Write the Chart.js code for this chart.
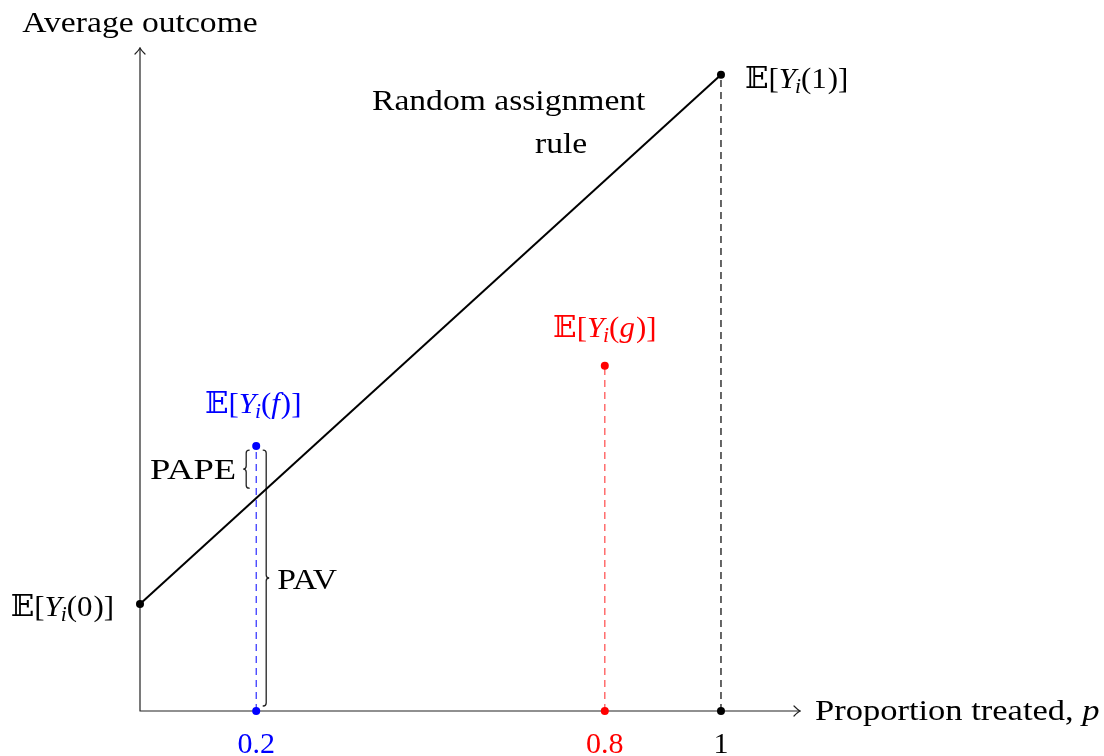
<!DOCTYPE html>
<html><head><meta charset="utf-8">
<script src="https://cdn.jsdelivr.net/npm/chart.js@4"></script>
<style>html,body{margin:0;padding:0;background:#fff}#wrap{width:1104px;height:756px;position:relative}</style>
</head><body><div id="wrap"><canvas id="c" width="1104" height="756"></canvas></div>
<script>
// ---- data ----
const ruleP = [0, 1];              // proportion treated at the two ends of the rule
const ruleY = [0.184, 1.095];      // E[Y_i(0)], E[Y_i(1)]
const policyP = [0.2, 0.8];        // f, g
const policyY = [0.456, 0.594];    // E[Y_i(f)], E[Y_i(g)]
const tickValues = [0.2, 0.8, 1];
const tickLabels = ['0.2', '0.8', '1'];
const axisMax = { x: 1.136, y: 1.141 };

const BLUE = '#0000ff', RED = '#ff0000', BLACK = '#000000';
const S = 30;
const FN = (s) => `${s}px "Liberation Serif", "DejaVu Serif", "DejaVu Sans", serif`;
const FI = (s) => `italic ${s}px "Liberation Serif", "DejaVu Serif", serif`;

function ruleAt(p) { return ruleY[0] + (ruleY[1] - ruleY[0]) * (p - ruleP[0]) / (ruleP[1] - ruleP[0]); }

function setF(ctx, p) { ctx.font = p.s === 'i' ? FI(S) : p.s === 'sub' ? FI(Math.round(S * 0.7)) : FN(S); }
function drawRich(ctx, parts, x, y, align, color, k) {
  k = k || 1;
  let w = 0;
  for (const p of parts) { setF(ctx, p); w += ctx.measureText(p.t).width + (p.k || 0); }
  w *= k;
  let cx = align === 'center' ? x - w / 2 : align === 'right' ? x - w : x;
  ctx.save();
  ctx.translate(cx, y); ctx.scale(k, 1);
  ctx.fillStyle = color; ctx.textAlign = 'left'; ctx.textBaseline = 'alphabetic';
  let px = 0;
  for (const p of parts) {
    setF(ctx, p);
    ctx.fillText(p.t, px, p.s === 'sub' ? 5 : 0);
    px += ctx.measureText(p.t).width + (p.k || 0);
  }
  ctx.restore();
}
function txt(ctx, s, x, y, align, color, k) { drawRich(ctx, [{ t: s, s: 'n' }], x, y, align, color, k); }
function EY(arg) {
  return [{ t: '𝔼[', s: 'n' }, { t: 'Y', s: 'i', k: -1 }, { t: 'i', s: 'sub' }, { t: '(', s: 'n' },
    { t: arg, s: /[0-9]/.test(arg) ? 'n' : 'i', k: 1 }, { t: ')]', s: 'n' }];
}
function brace(ctx, x, y1, y2, d, a) {
  const h = a / 2, m = (y1 + y2) / 2;
  ctx.beginPath();
  ctx.moveTo(x, y1);
  ctx.quadraticCurveTo(x + d * h, y1, x + d * h, y1 + h);
  ctx.lineTo(x + d * h, m - h);
  ctx.quadraticCurveTo(x + d * h, m, x + d * a, m);
  ctx.quadraticCurveTo(x + d * h, m, x + d * h, m + h);
  ctx.lineTo(x + d * h, y2 - h);
  ctx.quadraticCurveTo(x + d * h, y2, x, y2);
  ctx.stroke();
}

const TK = 1.12;
const axesPlugin = {
  id: 'axesAndText',
  beforeDatasetsDraw(chart) {
    const ctx = chart.ctx, xs = chart.scales.x, ys = chart.scales.y;
    const x0 = xs.getPixelForValue(0), y0 = ys.getPixelForValue(0);
    const xr = xs.getPixelForValue(axisMax.x), yt = ys.getPixelForValue(axisMax.y);
    ctx.save();
    ctx.strokeStyle = '#222'; ctx.lineWidth = 1.2; ctx.lineCap = 'round';
    ctx.beginPath(); ctx.moveTo(x0, y0); ctx.lineTo(xr, y0); ctx.moveTo(x0, y0); ctx.lineTo(x0, yt); ctx.stroke();
    ctx.beginPath();
    ctx.moveTo(xr - 6, y0 - 5); ctx.quadraticCurveTo(xr - 2, y0 - 1, xr, y0); ctx.quadraticCurveTo(xr - 2, y0 + 1, xr - 6, y0 + 5);
    ctx.moveTo(x0 - 5, yt + 6); ctx.quadraticCurveTo(x0 - 1, yt + 2, x0, yt); ctx.quadraticCurveTo(x0 + 1, yt + 2, x0 + 5, yt + 6);
    ctx.stroke();
    const bx = xs.getPixelForValue(policyP[0]);
    const yf = ys.getPixelForValue(policyY[0]);
    const yr = ys.getPixelForValue(ruleAt(policyP[0]));
    ctx.strokeStyle = '#222'; ctx.lineWidth = 1.3;
    brace(ctx, bx - 7, yf + 4, yr - 10, -1, 6);
    brace(ctx, bx + 7, yf + 4, y0 - 5, 1, 6);
    ctx.restore();
  },
  afterDraw(chart) {
    const ctx = chart.ctx, xs = chart.scales.x, ys = chart.scales.y;
    const x0 = xs.getPixelForValue(0), y0 = ys.getPixelForValue(0);
    const xr = xs.getPixelForValue(axisMax.x), yt = ys.getPixelForValue(axisMax.y);
    txt(ctx, 'Average outcome', x0, yt - 16, 'center', BLACK, TK);
    drawRich(ctx, [{ t: 'Proportion treated, ', s: 'n' }, { t: 'p', s: 'i' }], xr + 15, y0 + 9, 'left', BLACK, 1.15);
    const tickCols = [BLUE, RED, BLACK];
    tickValues.forEach((v, i) => txt(ctx, tickLabels[i], xs.getPixelForValue(v), y0 + 42, 'center', tickCols[i], 1.0));
    drawRich(ctx, EY('1'), xs.getPixelForValue(ruleP[1]) + 24, ys.getPixelForValue(ruleY[1]) + 13, 'left', BLACK, 1.03);
    drawRich(ctx, EY('0'), xs.getPixelForValue(ruleP[0]) - 26, ys.getPixelForValue(ruleY[0]) + 12, 'right', BLACK, 1.03);
    drawRich(ctx, EY('f'), xs.getPixelForValue(policyP[0]) - 3, ys.getPixelForValue(policyY[0]) - 33, 'center', BLUE, 1.03);
    drawRich(ctx, EY('g'), xs.getPixelForValue(policyP[1]), ys.getPixelForValue(policyY[1]) - 29, 'center', RED, 1.03);
    txt(ctx, 'Random assignment', 372, 110, 'left', BLACK, TK);
    txt(ctx, 'rule', 535, 153, 'left', BLACK, TK);
    const bx = xs.getPixelForValue(policyP[0]);
    txt(ctx, 'PAPE', bx - 20, 479, 'right', BLACK, 1.22);
    txt(ctx, 'PAV', bx + 21, 589, 'left', BLACK, 1.12);
  }
};

const pts = (ps, ys) => ps.map((p, i) => ({ x: p, y: ys[i] }));
new Chart(document.getElementById('c'), {
  type: 'scatter',
  data: {
    datasets: [
      { data: pts(ruleP, ruleY), showLine: true, borderColor: BLACK, borderWidth: 2, pointRadius: 0, clip: false, order: 2 },
      { data: [{ x: policyP[0], y: 0 }, { x: policyP[0], y: policyY[0] }], showLine: true, borderColor: BLUE, borderWidth: 1, borderDash: [7, 5], pointRadius: 4, pointBackgroundColor: BLUE, pointBorderWidth: 0, clip: false },
      { data: [{ x: policyP[1], y: 0 }, { x: policyP[1], y: policyY[1] }], showLine: true, borderColor: 'rgba(255,60,60,0.8)', borderWidth: 1.4, borderDash: [7, 5], pointRadius: 4, pointBackgroundColor: RED, pointBorderWidth: 0, clip: false },
      { data: [{ x: ruleP[1], y: 0 }, { x: ruleP[1], y: ruleY[1] }], showLine: true, borderColor: BLACK, borderWidth: 1.2, borderDash: [7, 5], pointRadius: 4, pointBackgroundColor: BLACK, pointBorderWidth: 0, clip: false },
      { data: [{ x: ruleP[0], y: ruleY[0] }], pointRadius: 4, pointBackgroundColor: BLACK, pointBorderWidth: 0, clip: false }
    ]
  },
  options: {
    responsive: false, animation: false, events: [],
    layout: { padding: { left: 140, right: 304, top: 48, bottom: 45 } },
    plugins: { legend: { display: false }, tooltip: { enabled: false } },
    scales: {
      x: { type: 'linear', min: 0, max: axisMax.x, display: false },
      y: { type: 'linear', min: 0, max: axisMax.y, display: false }
    }
  },
  plugins: [axesPlugin]
});
</script></body></html>
